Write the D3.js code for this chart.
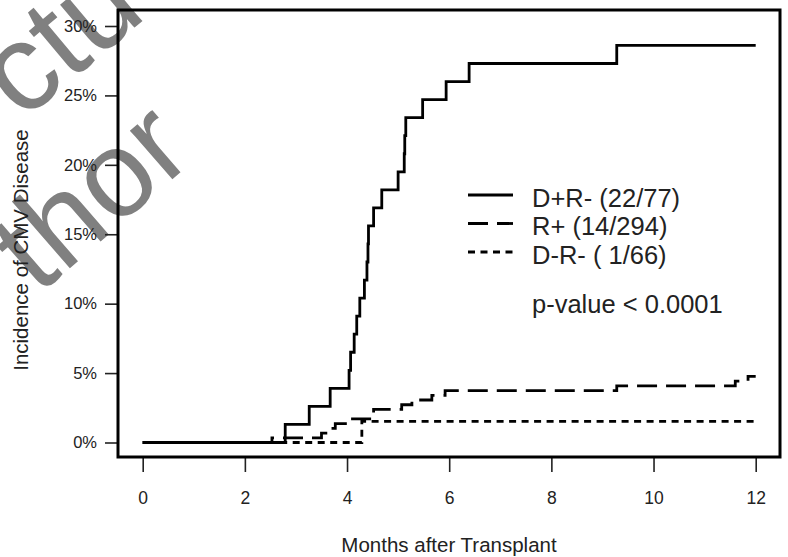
<!DOCTYPE html>
<html>
<head>
<meta charset="utf-8">
<script src="https://cdn.jsdelivr.net/npm/d3@7"></script>
<style>
    html, body { margin: 0; padding: 0; background: #fff; }
    svg { display: block; font-family: "Liberation Sans", Arial, sans-serif; }
</style>
</head>
<body>
<svg id="chart" width="788" height="557"></svg>
<script>

// Cumulative incidence (months, %)
const xTicks = [0, 2, 4, 6, 8, 10, 12];
const yTicks = [0, 5, 10, 15, 20, 25, 30];

const dpRmMonths = [0, 2.79, 3.26, 3.67, 4.04, 4.07, 4.14, 4.19, 4.25, 4.34, 4.39, 4.41, 4.42, 4.52, 4.68, 5.00, 5.12, 5.13, 5.15, 5.48, 5.94, 6.39, 9.28, 12];
const dpRmPct = [0, 1.3, 2.6, 3.9, 5.2, 6.5, 7.8, 9.1, 10.4, 11.7, 13.0, 14.3, 15.6, 16.9, 18.2, 19.5, 20.8, 22.1, 23.4, 24.7, 26.0, 27.3, 28.6, 28.6];

const rpMonths = [0, 2.53, 3.50, 3.67, 3.77, 4.06, 4.52, 5.07, 5.27, 5.66, 5.92, 9.28, 11.6, 11.85, 12];
const rpPct = [0, 0.34, 0.68, 1.02, 1.36, 1.70, 2.38, 2.72, 3.06, 3.40, 3.74, 4.08, 4.42, 4.76, 4.76];

const dmRmMonths = [0, 4.29, 12];
const dmRmPct = [0, 1.52, 1.52];

const seriesNames = ["D+R- (22/77)", "R+ (14/294)", "D-R- ( 1/66)"];
const seriesDash = [null, "20,9", "7,5.5"];

const zip = (xs, ys) => xs.map((x, i) => ({ m: x, p: ys[i] }));
const series = [
    zip(dpRmMonths, dpRmPct),
    zip(rpMonths, rpPct),
    zip(dmRmMonths, dmRmPct)
];

const svg = d3.select("#chart");

// frame box
const frame = { left: 118, top: 10, right: 780, bottom: 457 };

const x = d3.scaleLinear().domain([0, 12]).range([142.7, 755.7]);
const y = d3.scaleLinear().domain([0, 30]).range([442.5, 26]);

// Watermark behind everything
const drawWatermark = () => {
    let g = svg.append("g").attr("fill", "#808080");
    g.append("text")
        .attr("transform", "translate(22,122) rotate(-40)")
        .style("font-size", "124px")
        .text("ctu");
    g.append("text")
        .attr("transform", "translate(38,296) rotate(-41)")
        .style("font-size", "122px")
        .text("thor");
}

const drawAxes = () => {
    let yAxis = d3.axisLeft(y)
        .tickValues(yTicks)
        .tickSize(12)
        .tickPadding(8)
        .tickFormat(d => d + "%");

    let ya = svg.append("g")
        .attr("transform", `translate(${frame.left - 1},0)`)
        .call(yAxis);
    ya.select(".domain").remove();
    ya.selectAll("line").attr("stroke", "#222").attr("stroke-width", 1.6);
    ya.selectAll("text").attr("fill", "#222").style("font-size", "16.5px");

    let xAxis = d3.axisBottom(x)
        .tickValues(xTicks)
        .tickSize(14)
        .tickPadding(20);

    let xa = svg.append("g")
        .attr("transform", `translate(0,${frame.bottom + 1})`)
        .call(xAxis);
    xa.select(".domain").remove();
    xa.selectAll("line").attr("stroke", "#222").attr("stroke-width", 1.6);
    xa.selectAll("text").attr("fill", "#222").style("font-size", "17.5px");

    svg.append("text")
        .attr("x", (frame.left + frame.right) / 2)
        .attr("y", 552)
        .attr("text-anchor", "middle")
        .attr("fill", "#222")
        .style("font-size", "20.5px")
        .text("Months after Transplant");

    svg.append("text")
        .attr("transform", "translate(28,250) rotate(-90)")
        .attr("text-anchor", "middle")
        .attr("fill", "#222")
        .style("font-size", "20.5px")
        .text("Incidence of CMV Disease");
}

const drawCurves = () => {
    let line = d3.line()
        .curve(d3.curveStepAfter)
        .x(d => x(d.m))
        .y(d => y(d.p));

    // draw dotted first so solid sits on top
    svg.append("g").selectAll("path")
        .data(series.map((s, i) => ({ s, i })).reverse())
        .join("path")
        .attr("d", d => line(d.s))
        .attr("fill", "none")
        .attr("stroke", "#000")
        .attr("stroke-width", 2.8)
        .attr("stroke-dasharray", d => seriesDash[d.i]);
}

const drawFrame = () => {
    svg.append("rect")
        .attr("x", frame.left)
        .attr("y", frame.top)
        .attr("width", frame.right - frame.left)
        .attr("height", frame.bottom - frame.top)
        .attr("fill", "none")
        .attr("stroke", "#000")
        .attr("stroke-width", 3);
}

const drawLegend = () => {
    let g = svg.append("g");
    let rows = [195, 223.5, 252];

    g.selectAll("line")
        .data(seriesNames)
        .join("line")
        .attr("x1", 468).attr("x2", 513)
        .attr("y1", (d, i) => rows[i]).attr("y2", (d, i) => rows[i])
        .attr("stroke", "#000")
        .attr("stroke-width", 2.8)
        .attr("stroke-dasharray", (d, i) => seriesDash[i]);

    g.selectAll("text")
        .data(seriesNames)
        .join("text")
        .attr("x", 532)
        .attr("y", (d, i) => rows[i] + 11.5)
        .attr("fill", "#222")
        .style("font-size", "25.5px")
        .style("white-space", "pre")
        .text(d => d);

    g.append("text")
        .attr("x", 532)
        .attr("y", 313)
        .attr("fill", "#222")
        .style("font-size", "25.5px")
        .text("p-value < 0.0001");
}

drawWatermark();
drawAxes();
drawCurves();
drawFrame();
drawLegend();

</script>
</body>
</html>
